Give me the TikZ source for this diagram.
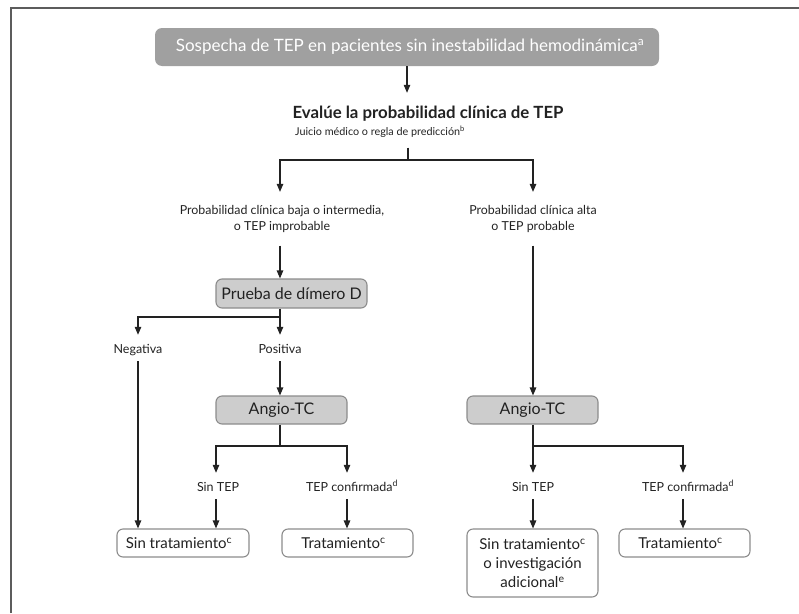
\documentclass[tikz,border=0pt]{standalone}
\usepackage{fontspec}
\setmainfont{Lato}
\usetikzlibrary{arrows.meta}
\definecolor{topgray}{HTML}{A0A0A0}
\definecolor{midgray}{HTML}{CDCDCD}
\definecolor{edgegray}{HTML}{8C8C8C}
\definecolor{ink}{HTML}{222222}
\definecolor{framegray}{HTML}{5C5C5C}
\begin{document}
\begin{tikzpicture}[x=1pt,y=-1pt,
  conn/.style={draw=ink, line width=1.1pt},
  arrowc/.style={conn, -{Triangle[length=8pt,width=6.5pt]}},
  wbox/.style={draw=edgegray, line width=1.1pt, rounded corners=6pt, fill=white,
    text=ink, font=\fontsize{15}{19}\selectfont, inner sep=0pt, align=center},
  gbox/.style={wbox, fill=midgray, font=\fontsize{16}{19}\selectfont},
  topbox/.style={fill=topgray, rounded corners=7pt, minimum width=504pt,
    minimum height=38pt, text=white, font=\fontsize{17}{20}\selectfont, inner sep=0pt},
  lab/.style={text=ink, font=\fontsize{12.5}{14}\selectfont, text height=10pt,
    text depth=0pt, inner ysep=8pt, inner xsep=0pt, anchor=base},
  plab/.style={text=ink, font=\fontsize{12.4}{16}\selectfont, align=center,
    inner ysep=13pt, inner xsep=0pt},
  framec/.style={draw=framegray, line width=2pt}
]
\useasboundingbox (0,0) rectangle (799,613);
\draw[framec] (11,613) -- (11,8) -- (799,8);

% nodes
\node[topbox] (top) at (407,47) {\hspace*{6pt}Sospecha de TEP en pacientes sin inestabilidad hemodinámica\textsuperscript{a}};
\node[text=ink, font=\bfseries\fontsize{16.8}{19}\selectfont, anchor=base, inner ysep=13pt] (eval) at (428,118.5) {Evalúe la probabilidad clínica de TEP};
\node[text=ink, font=\fontsize{10.8}{12}\selectfont, anchor=base, inner ysep=10.5pt] (juicio) at (380,135) {Juicio médico o regla de predicción\textsuperscript{b}};

\node[plab] (prob1) at (282,218.7) {Probabilidad clínica baja o intermedia,\\o TEP improbable};
\node[plab] (prob2) at (533,218.7) {Probabilidad clínica alta\\o TEP probable};

\node[gbox, minimum width=151pt, minimum height=29pt] (prueba) at (291.5,293.5) {Prueba de dímero D};

\node[lab] (neg) at (138,353) {Negativa};
\node[lab] (pos) at (280,353) {Positiva};

\node[gbox, minimum width=131pt, minimum height=28pt] (angioL) at (281.5,410) {Angio-TC};
\node[gbox, minimum width=131pt, minimum height=28pt] (angioR) at (532.5,410) {Angio-TC};

\node[lab] (sintepL) at (218,491) {Sin TEP};
\node[lab] (confL) at (352,491) {TEP confirmada\textsuperscript{d}};
\node[lab] (sintepR) at (533,491) {Sin TEP};
\node[lab] (confR) at (688,491) {TEP confirmada\textsuperscript{d}};

\node[wbox, minimum width=132pt, minimum height=28pt] (sinL) at (183,543) {\hspace*{-8pt}Sin tratamiento\textsuperscript{c}};
\node[wbox, minimum width=131pt, minimum height=28pt] (tratL) at (347.5,543) {\hspace*{-8pt}Tratamiento\textsuperscript{c}};
\node[wbox, minimum width=131pt, minimum height=68pt] (sinR) at (532.5,563) {Sin tratamiento\textsuperscript{c}\\o investigación\\adicional\textsuperscript{e}};
\node[wbox, minimum width=131pt, minimum height=28pt] (tratR) at (684.5,543) {\hspace*{-8pt}Tratamiento\textsuperscript{c}};

% branch points
\coordinate (s1) at (408,160);
\coordinate (s2) at (280,317);
\coordinate (s3) at (280,446);
\coordinate (s4) at (533,446);
\coordinate (cL) at (280,0);
\coordinate (cR) at (683,0);
\coordinate (cS) at (216,0);
\coordinate (cC) at (347,0);

% connectors
\draw[arrowc] (top.south) -- (top.south |- eval.north);
\draw[conn] (juicio.south -| s1) -- (s1);
\draw[arrowc] (s1) -| (prob1.north -| cL);
\draw[arrowc] (s1) -| (prob2.north);
\draw[arrowc] (prob1.south -| cL) -- (prueba.north -| cL);
\draw[conn] (prueba.south -| s2) -- (s2);
\draw[arrowc] (s2) -| (neg.north);
\draw[arrowc] (s2) -- (pos.north);
\draw[arrowc] (neg.south) -- (neg.south |- sinL.north);
\draw[arrowc] (pos.south) -- (pos.south |- angioL.north);
\draw[conn] (angioL.south -| s3) -- (s3);
\draw[arrowc] (s3) -| (sintepL.north -| cS);
\draw[arrowc] (s3) -| (confL.north -| cC);
\draw[arrowc] (sintepL.south -| cS) -- (sinL.north -| cS);
\draw[arrowc] (confL.south -| cC) -- (tratL.north -| cC);
\draw[arrowc] (prob2.south) -- (prob2.south |- angioR.north);
\draw[conn] (angioR.south -| s4) -- (s4);
\draw[arrowc] (s4) -- (sintepR.north);
\draw[arrowc] (s4) -| (confR.north -| cR);
\draw[arrowc] (sintepR.south) -- (sintepR.south |- sinR.north);
\draw[arrowc] (confR.south -| cR) -- (tratR.north -| cR);
\end{tikzpicture}
\end{document}
